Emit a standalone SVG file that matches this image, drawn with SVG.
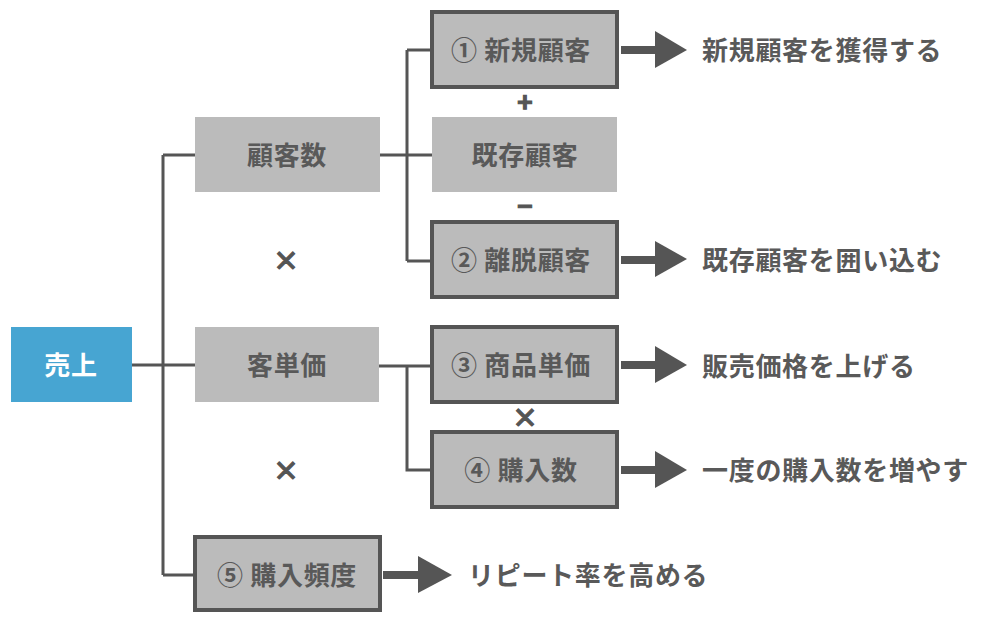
<svg xmlns="http://www.w3.org/2000/svg" width="992" height="621" viewBox="0 0 992 621">
<style>
text{font-family:"Noto Sans CJK JP","Noto Sans",sans-serif;font-weight:bold;font-size:26px;letter-spacing:0.7px;fill:#595959;dominant-baseline:central}
.c{text-anchor:middle}
.op{stroke:#555555;stroke-width:1.2px;fill:#555555;letter-spacing:0}
.plain{fill:#BBBBBB}
.box{fill:#BBBBBB;stroke:#555555;stroke-width:4}
.line{fill:none;stroke:#555555;stroke-width:3}
.shaft{stroke:#555555;stroke-width:8}
.head{fill:#555555}
.root{fill:#47A5D2}
.w{fill:#FFFFFF}
</style>
<rect width="992" height="621" fill="#FFFFFF"/>
<g id="connectors">
<path class="line" d="M132,365H195M163,155V575M163,155H195M163,575H193"/>
<path class="line" d="M380,155H432M407,50V261M407,50H430M407,261H430"/>
<path class="line" d="M379,366H430M407,366V470H430"/>
<line class="shaft" x1="621" y1="50" x2="658" y2="50"/><polygon class="head" points="655,31 687,50 655,68"/>
<line class="shaft" x1="621" y1="260" x2="658" y2="260"/><polygon class="head" points="655,241 687,259 655,277"/>
<line class="shaft" x1="621" y1="365" x2="658" y2="365"/><polygon class="head" points="655,346 687,365 655,383"/>
<line class="shaft" x1="621" y1="470" x2="658" y2="470"/><polygon class="head" points="655,451 687,470 655,488"/>
<line class="shaft" x1="383" y1="575" x2="421" y2="575"/><polygon class="head" points="418,556 452,575 418,593"/>
</g>
<g id="root"><rect class="root" x="11" y="327" width="121" height="75"/><text class="c w" x="71" y="363">売上</text></g>
<g id="kokyakusu"><rect class="plain" x="195" y="117" width="185" height="75"/><text class="c" x="287" y="153">顧客数</text></g>
<g id="kyakutanka"><rect class="plain" x="195" y="327" width="184" height="75"/><text class="c" x="287" y="363">客単価</text></g>
<g id="shinki"><rect class="box" x="432" y="12" width="185" height="75"/><text class="c" x="521" y="48">① 新規顧客</text></g>
<g id="kizon"><rect class="plain" x="432" y="117" width="185" height="75"/><text class="c" x="525" y="153">既存顧客</text></g>
<g id="ridatsu"><rect class="box" x="432" y="222" width="185" height="75"/><text class="c" x="521" y="258">② 離脱顧客</text></g>
<g id="shohin"><rect class="box" x="432" y="327" width="185" height="75"/><text class="c" x="521" y="363">③ 商品単価</text></g>
<g id="konyusu"><rect class="box" x="432" y="432" width="185" height="75"/><text class="c" x="521" y="468">④ 購入数</text></g>
<g id="hindo"><rect class="box" x="195" y="537" width="185" height="73"/><text class="c" x="287" y="573">⑤ 購入頻度</text></g>
<g id="ops">
<text class="c op" x="525" y="100">+</text>
<text class="c op" x="525" y="204">−</text>
<text class="c op" x="525" y="415">×</text>
<text class="c op" x="286" y="258">×</text>
<text class="c op" x="286" y="468">×</text>
</g>
<g id="labels">
<text x="702" y="48">新規顧客を獲得する</text>
<text x="702" y="258">既存顧客を囲い込む</text>
<text x="702" y="364">販売価格を上げる</text>
<text x="702" y="468">一度の購入数を増やす</text>
<text x="468" y="573">リピート率を高める</text>
</g>
</svg>
